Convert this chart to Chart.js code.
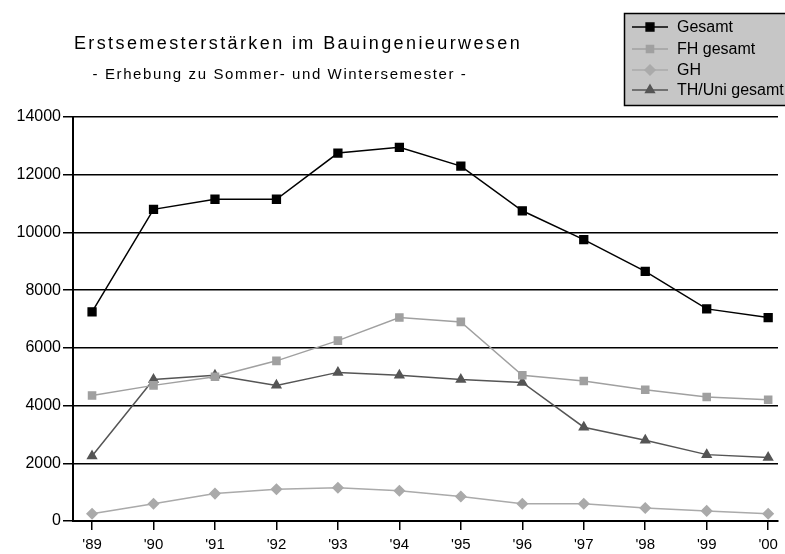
<!DOCTYPE html>
<html>
<head>
<meta charset="utf-8">
<script src="https://cdn.jsdelivr.net/npm/chart.js@4"></script>
<style>
  body { margin: 0; background: #fff; }
  #wrap { width: 785px; height: 554px; }
</style>
</head>
<body>
<div id="wrap"><canvas id="chart" width="785" height="554"></canvas></div>
<script>
// Erstsemester data
const yearLabels = ["'89", "'90", "'91", "'92", "'93", "'94", "'95", "'96", "'97", "'98", "'99", "'00"];
const gesamt = [7250, 10800, 11150, 11150, 12750, 12950, 12300, 10750, 9750, 8650, 7350, 7050];
const fhGesamt = [4350, 4700, 5000, 5550, 6250, 7050, 6900, 5050, 4850, 4550, 4300, 4200];
const gh = [250, 600, 950, 1100, 1150, 1050, 850, 600, 600, 450, 350, 250];
const thUniGesamt = [2250, 4900, 5050, 4700, 5150, 5050, 4900, 4800, 3250, 2800, 2300, 2200];
const yTicks = [0, 2000, 4000, 6000, 8000, 10000, 12000, 14000];

const titleText = 'Erstsemesterstärken im Bauingenieurwesen';
const subtitleText = '- Erhebung zu Sommer- und Wintersemester -';

function toPoints(arr) {
    return arr.map(function(v, i) { return { x: i, y: v }; });
}

// Titles + boxed legend in the upper right, drawn on the canvas
const decorPlugin = {
    id: 'decor',
    afterDraw: function(chart) {
        const ctx = chart.ctx;
        ctx.save();
        ctx.fillStyle = '#000';
        ctx.textAlign = 'center';
        ctx.textBaseline = 'middle';
        ctx.font = '18px "Liberation Sans", Arial, sans-serif';
        ctx.letterSpacing = '2.4px';
        ctx.fillText(titleText, 298, 44);
        ctx.font = '15px "Liberation Sans", Arial, sans-serif';
        ctx.letterSpacing = '1.6px';
        ctx.fillText(subtitleText, 280, 75);
        ctx.letterSpacing = '0px';

        // legend box
        ctx.fillStyle = '#c6c6c6';
        ctx.fillRect(624, 13, 165, 92);
        ctx.strokeStyle = '#000';
        ctx.lineWidth = 1.5;
        ctx.strokeRect(624.5, 13.5, 165, 92);

        const rows = [27, 49, 70, 90];
        ctx.textAlign = 'left';
        ctx.font = '16px "Liberation Sans Narrow", "Liberation Sans", Arial, sans-serif';
        chart.data.datasets.forEach(function(ds, i) {
            const y = rows[i];
            ctx.strokeStyle = ds.borderColor;
            ctx.lineWidth = 1.5;
            ctx.beginPath();
            ctx.moveTo(632, y);
            ctx.lineTo(668, y);
            ctx.stroke();
            Chart.helpers.drawPoint(ctx, {
                pointStyle: ds.pointStyle,
                radius: ds.pointRadius,
                borderWidth: 1
            }, 650, y);
            ctx.fillStyle = ds.pointBackgroundColor;
            ctx.fill();
            ctx.fillStyle = '#000';
            ctx.fillText(ds.label, 677, y + 1);
        });
        ctx.restore();
    }
};

const ctx = document.getElementById('chart');
new Chart(ctx, {
    type: 'line',
    data: {
        datasets: [{
            label: 'Gesamt',
            data: toPoints(gesamt),
            borderColor: '#000000',
            backgroundColor: '#000000',
            pointBackgroundColor: '#000000',
            pointBorderColor: '#000000',
            pointStyle: 'rect',
            pointRadius: 5.5,
            borderWidth: 1.5
        }, {
            label: 'FH gesamt',
            data: toPoints(fhGesamt),
            borderColor: '#a0a0a0',
            backgroundColor: '#a0a0a0',
            pointBackgroundColor: '#a0a0a0',
            pointBorderColor: '#a0a0a0',
            pointStyle: 'rect',
            pointRadius: 5,
            borderWidth: 1.5
        }, {
            label: 'GH',
            data: toPoints(gh),
            borderColor: '#aaaaaa',
            backgroundColor: '#aaaaaa',
            pointBackgroundColor: '#aaaaaa',
            pointBorderColor: '#aaaaaa',
            pointStyle: 'rectRot',
            pointRadius: 5,
            borderWidth: 1.5
        }, {
            label: 'TH/Uni gesamt',
            data: toPoints(thUniGesamt),
            borderColor: '#555555',
            backgroundColor: '#555555',
            pointBackgroundColor: '#555555',
            pointBorderColor: '#555555',
            pointStyle: 'triangle',
            pointRadius: 5,
            borderWidth: 1.5
        }]
    },
    options: {
        responsive: false,
        animation: false,
        layout: { padding: { top: 117, right: 0, left: 0, bottom: 0 } },
        plugins: {
            legend: { display: false },
            title: { display: false },
            tooltip: { enabled: false }
        },
        scales: {
            x: {
                type: 'linear',
                min: -0.31,
                max: 11.16,
                afterBuildTicks: function(scale) {
                    scale.ticks = yearLabels.map(function(l, i) { return { value: i }; });
                },
                afterFit: function(scale) { scale.height = 33; },
                ticks: {
                    autoSkip: false,
                    maxRotation: 0,
                    padding: 6,
                    color: '#000',
                    font: { family: '"Liberation Sans", Arial, sans-serif', size: 15 },
                    callback: function(v) { return yearLabels[v]; }
                },
                grid: { drawOnChartArea: false, color: '#000', tickLength: 9, lineWidth: 1.5 },
                border: { display: true, color: '#000', width: 2 }
            },
            y: {
                min: 0,
                max: 14000,
                afterBuildTicks: function(scale) {
                    scale.ticks = yTicks.map(function(v) { return { value: v }; });
                },
                afterFit: function(scale) { scale.width = 73; },
                ticks: {
                    padding: 2,
                    color: '#000',
                    font: { family: '"Liberation Sans", Arial, sans-serif', size: 16 },
                    callback: function(v) { return String(v); }
                },
                grid: { color: '#000', lineWidth: 1.5, tickLength: 10 },
                border: { display: true, color: '#000', width: 2 }
            }
        }
    },
    plugins: [decorPlugin]
});
</script>
</body>
</html>
